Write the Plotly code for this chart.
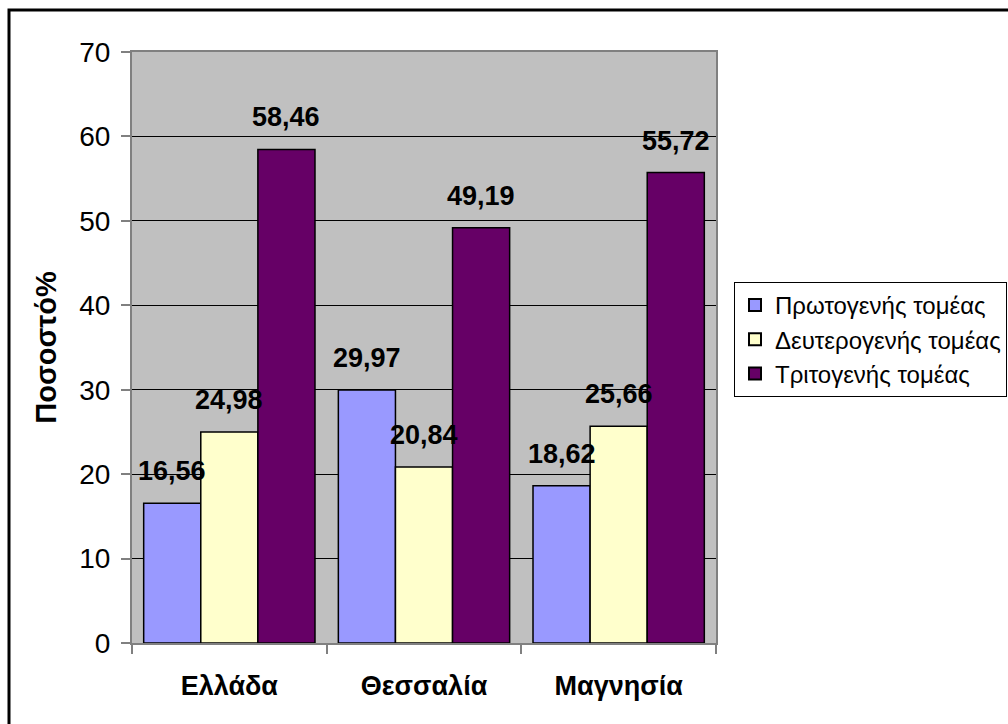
import plotly.graph_objects as go

# Regions and sector shares (%)
regions = ["Ελλάδα", "Θεσσαλία", "Μαγνησία"]
sectors = ["Πρωτογενής τομέας", "Δευτερογενής τομέας", "Τριτογενής τομέας"]
primary = [16.56, 29.97, 18.62]
secondary = [24.98, 20.84, 25.66]
tertiary = [58.46, 49.19, 55.72]
y_ticks = [0, 10, 20, 30, 40, 50, 60, 70]

colors = ["#9999FF", "#FFFFCC", "#660066"]
series = [primary, secondary, tertiary]
BARGAP = 0.12
FONT = "Liberation Sans, Arial, sans-serif"

fig = go.Figure()
for name, vals, col in zip(sectors, series, colors):
    fig.add_trace(go.Bar(
        x=regions, y=vals, name=name,
        marker=dict(color=col, line=dict(color="#000000", width=1.5)),
    ))

# Value labels above each bar (comma decimal separator)
bar_w = (1 - BARGAP) / len(series)
annotations = []
for k, vals in enumerate(series):
    for i, v in enumerate(vals):
        annotations.append(dict(
            x=i + (k - 1) * bar_w, y=v, xref="x", yref="y",
            text=f"{v:.2f}".replace(".", ","), showarrow=False,
            yanchor="bottom", yshift=15,
            font=dict(family=FONT, size=27, color="#000000", weight="bold"),
        ))

# Plot area spans 132..716 px horizontally, 52..643 px vertically
L, R, T, B = 132, 1008 - 716, 52, 724 - 643
pw, ph = 1008 - L - R, 724 - T - B

fig.update_layout(
    width=1008, height=724,
    margin=dict(l=L, r=R, t=T, b=B, autoexpand=False),
    barmode="group", bargap=BARGAP, bargroupgap=0,
    plot_bgcolor="#C0C0C0", paper_bgcolor="#FFFFFF",
    font=dict(family=FONT, color="#000000"),
    annotations=annotations,
    legend=dict(
        x=(734 - L) / pw, y=(643 - 282) / ph, xanchor="left", yanchor="top",
        bordercolor="#000000", borderwidth=1, bgcolor="#FFFFFF",
        font=dict(family=FONT, size=24, color="#000000"),
        tracegroupgap=0, itemsizing="constant",
    ),
    showlegend=True,
    shapes=[dict(
        type="rect", xref="paper", yref="paper",
        x0=(9 - L) / pw, x1=1.6, y0=-0.3, y1=(643 - 10) / ph,
        line=dict(color="#000000", width=3), fillcolor="rgba(0,0,0,0)",
        layer="below",
    )],
)

fig.update_xaxes(
    type="category", showgrid=False, tickson="boundaries",
    ticks="outside", ticklen=9, tickcolor="#808080", tickwidth=2,
    showline=True, linecolor="#808080", linewidth=2, mirror=True,
    tickfont=dict(family=FONT, size=27, color="#000000", weight="bold"),
    ticklabelstandoff=18,
)
fig.update_yaxes(
    range=[0, 70], tickvals=y_ticks, ticktext=[str(t) for t in y_ticks],
    showgrid=True, gridcolor="#000000", gridwidth=1,
    ticks="outside", ticklen=9, tickcolor="#808080", tickwidth=2,
    showline=True, linecolor="#808080", linewidth=2, mirror=True,
    zeroline=False,
    tickfont=dict(family=FONT, size=28, color="#000000"),
    ticklabelstandoff=5,
    title=dict(text="Ποσοστό%", standoff=14,
               font=dict(family=FONT, size=29, color="#000000", weight="bold")),
)

fig.write_html("out.html")
